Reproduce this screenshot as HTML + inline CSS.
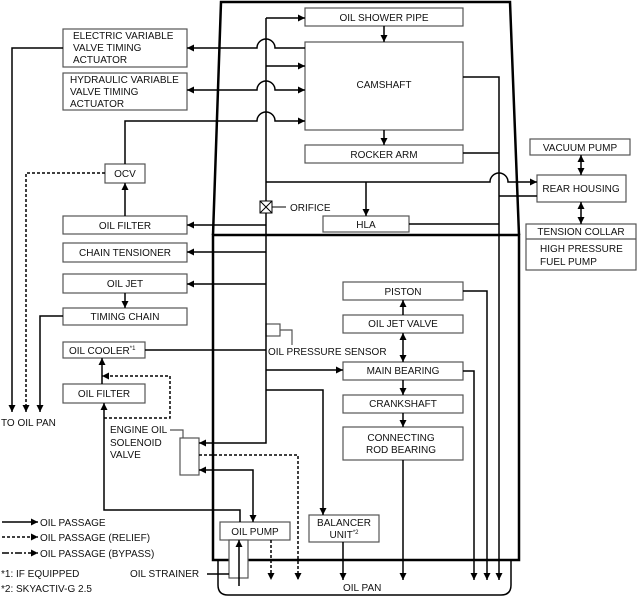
<!DOCTYPE html>
<html><head><meta charset="utf-8"><style>
html,body{margin:0;padding:0;background:#fff}
svg{display:block}
text{font-family:"Liberation Sans",sans-serif;font-size:10px;fill:#111}
</style></head><body>
<svg width="639" height="598" viewBox="0 0 639 598" xmlns="http://www.w3.org/2000/svg">
<defs>
<marker id="a" viewBox="0 0 10 10" refX="10" refY="5" markerWidth="7" markerHeight="7" markerUnits="userSpaceOnUse" orient="auto-start-reverse"><path d="M0,0L10,5L0,10z" fill="#000"/></marker>
</defs>
<g fill="none" stroke="#000" stroke-width="2.5">
<path d="M213,235 L221,2 L510,2 L519,235"/>
<rect x="213" y="235" width="306" height="325"/>
</g>
<path d="M218,560 V585 Q218,595 228,595 H501 Q511,595 511,585 V560" fill="none" stroke="#000" stroke-width="1.5"/>
<g fill="#fff" stroke="#555" stroke-width="1.2">
<rect x="305" y="8" width="158" height="18"/>
<rect x="305" y="42" width="158" height="88"/>
<rect x="305" y="145" width="158" height="18"/>
<rect x="323" y="216" width="86" height="16"/>
<rect x="63" y="29" width="124" height="38"/>
<rect x="63" y="73" width="124" height="37"/>
<rect x="105" y="164" width="40" height="19"/>
<rect x="63" y="216" width="124" height="18"/>
<rect x="63" y="243" width="124" height="19"/>
<rect x="63" y="274" width="124" height="19"/>
<rect x="63" y="308" width="124" height="17"/>
<rect x="63" y="342" width="82" height="16"/>
<rect x="63" y="384" width="82" height="19"/>
<rect x="180" y="438" width="19" height="37"/>
<rect x="220" y="522" width="70" height="18"/>
<rect x="229" y="540" width="19" height="38"/>
<rect x="309" y="515" width="70" height="27"/>
<rect x="343" y="282" width="120" height="18"/>
<rect x="343" y="315" width="120" height="18"/>
<rect x="343" y="362" width="120" height="18"/>
<rect x="343" y="395" width="120" height="18"/>
<rect x="343" y="427" width="120" height="33"/>
<rect x="530" y="139" width="100" height="16"/>
<rect x="537" y="175" width="89" height="27"/>
<rect x="526" y="224" width="110" height="46"/>
<line x1="526" y1="239" x2="636" y2="239"/>
<rect x="266" y="324" width="14" height="12"/>
<polyline points="280,330 292,330 292,345" fill="none"/>
<polyline points="170,430 183,430 183,438" fill="none"/>
</g>
<g fill="none" stroke="#000" stroke-width="1.5">
<path d="M266,18 V443 H199" marker-end="url(#a)"/>
<path d="M266,18 H305" marker-end="url(#a)"/>
<path d="M266,66 H305" marker-end="url(#a)"/>
<path d="M305,48 H275 A9,9 0 0 0 257,48 H187" marker-end="url(#a)"/>
<path d="M187,90 H257 A9,9 0 0 1 275,90 H305" marker-start="url(#a)" marker-end="url(#a)"/>
<path d="M125,164 V121 H257 A9,9 0 0 1 275,121 H305" marker-end="url(#a)"/>
<path d="M384,26 V42" marker-end="url(#a)"/>
<path d="M384,130 V145" marker-end="url(#a)"/>
<path d="M63,48 H12 V412" marker-end="url(#a)"/>
<path d="M63,316 H40 V412" marker-end="url(#a)"/>
<path d="M105,173 H26 V412" stroke-dasharray="3,2" marker-end="url(#a)"/>
<path d="M266,225 H187" marker-end="url(#a)"/>
<path d="M266,252 H187" marker-end="url(#a)"/>
<path d="M266,284 H187" marker-end="url(#a)"/>
<path d="M125,216 V183" marker-end="url(#a)"/>
<path d="M125,293 V308" marker-end="url(#a)"/>
<path d="M145,350 H266"/>
<path d="M102,384 V358" marker-end="url(#a)"/>
<path d="M104,418 H170 V376 H102" stroke-dasharray="3,2" marker-end="url(#a)"/>
<path d="M240,522 V510 H104 V403" marker-end="url(#a)"/>
<path d="M199,470 H253 V522" marker-start="url(#a)" marker-end="url(#a)"/>
<path d="M199,455 H298 V580" stroke-dasharray="3,2" marker-end="url(#a)"/>
<path d="M271,540 V580" stroke-dasharray="3,2" marker-end="url(#a)"/>
<path d="M239,586 V540" marker-end="url(#a)"/>
<path d="M207,574 H229"/>
<path d="M266,370 H343" marker-end="url(#a)"/>
<path d="M266,390 H323 V515" marker-end="url(#a)"/>
<path d="M343,542 V580" marker-end="url(#a)"/>
<path d="M403,315 V300" marker-end="url(#a)"/>
<path d="M403,333 V362" marker-start="url(#a)" marker-end="url(#a)"/>
<path d="M403,380 V395" marker-end="url(#a)"/>
<path d="M403,413 V427" marker-end="url(#a)"/>
<path d="M403,460 V580" marker-end="url(#a)"/>
<path d="M463,291 H487 V580" marker-end="url(#a)"/>
<path d="M463,371 H474 V580" marker-end="url(#a)"/>
<path d="M463,77 H499 V580" marker-end="url(#a)"/>
<path d="M463,153 H499"/>
<path d="M409,224 H499"/>
<path d="M499,196 H537"/>
<path d="M266,182 H490 A9,9 0 0 1 508,182 H537" marker-end="url(#a)"/>
<path d="M366,182 V216" marker-end="url(#a)"/>
<path d="M581,155 V175" marker-start="url(#a)" marker-end="url(#a)"/>
<path d="M581,202 V224" marker-start="url(#a)" marker-end="url(#a)"/>
<path d="M272,207 H286" stroke-width="1"/>
<path d="M2,522 H38" marker-end="url(#a)"/>
<path d="M2,537 H38" stroke-dasharray="3,2" marker-end="url(#a)"/>
<path d="M2,553 H38" stroke-dasharray="7,2,2,2" marker-end="url(#a)"/>
</g>
<g fill="#fff" stroke="#000" stroke-width="1">
<rect x="260" y="201" width="12" height="12"/>
<path d="M260,201 L272,213 M272,201 L260,213"/>
</g>
<g>
<text x="384" y="21" text-anchor="middle">OIL SHOWER PIPE</text>
<text x="384" y="88" text-anchor="middle">CAMSHAFT</text>
<text x="384" y="158" text-anchor="middle">ROCKER ARM</text>
<text x="366" y="228" text-anchor="middle">HLA</text>
<text x="290" y="211">ORIFICE</text>
<text x="73" y="39">ELECTRIC VARIABLE</text>
<text x="73" y="51">VALVE TIMING</text>
<text x="73" y="63">ACTUATOR</text>
<text x="70" y="83">HYDRAULIC VARIABLE</text>
<text x="70" y="95">VALVE TIMING</text>
<text x="70" y="107">ACTUATOR</text>
<text x="125" y="177" text-anchor="middle">OCV</text>
<text x="125" y="229" text-anchor="middle">OIL FILTER</text>
<text x="125" y="256" text-anchor="middle">CHAIN TENSIONER</text>
<text x="125" y="287" text-anchor="middle">OIL JET</text>
<text x="125" y="320" text-anchor="middle">TIMING CHAIN</text>
<text x="69" y="354">OIL COOLER<tspan font-size="6" dy="-4">*1</tspan></text>
<text x="104" y="397" text-anchor="middle">OIL FILTER</text>
<text x="1" y="426">TO OIL PAN</text>
<text x="110" y="433">ENGINE OIL</text>
<text x="110" y="446">SOLENOID</text>
<text x="110" y="458">VALVE</text>
<text x="268" y="355">OIL PRESSURE SENSOR</text>
<text x="255" y="535" text-anchor="middle">OIL PUMP</text>
<text x="344" y="526" text-anchor="middle">BALANCER</text>
<text x="344" y="538" text-anchor="middle">UNIT<tspan font-size="6" dy="-4">*2</tspan></text>
<text x="130" y="577">OIL STRAINER</text>
<text x="343" y="591">OIL PAN</text>
<text x="403" y="295" text-anchor="middle">PISTON</text>
<text x="403" y="327" text-anchor="middle">OIL JET VALVE</text>
<text x="403" y="374" text-anchor="middle">MAIN BEARING</text>
<text x="403" y="407" text-anchor="middle">CRANKSHAFT</text>
<text x="401" y="441" text-anchor="middle">CONNECTING</text>
<text x="401" y="453" text-anchor="middle">ROD BEARING</text>
<text x="580" y="151" text-anchor="middle">VACUUM PUMP</text>
<text x="581" y="192" text-anchor="middle">REAR HOUSING</text>
<text x="581" y="235" text-anchor="middle">TENSION COLLAR</text>
<text x="540" y="252">HIGH PRESSURE</text>
<text x="540" y="265">FUEL PUMP</text>
<text x="40" y="526">OIL PASSAGE</text>
<text x="40" y="541">OIL PASSAGE (RELIEF)</text>
<text x="40" y="557">OIL PASSAGE (BYPASS)</text>
<text x="1" y="577" font-size="9">*1: IF EQUIPPED</text>
<text x="1" y="592" font-size="9">*2: SKYACTIV-G 2.5</text>
</g>
</svg>
</body></html>
